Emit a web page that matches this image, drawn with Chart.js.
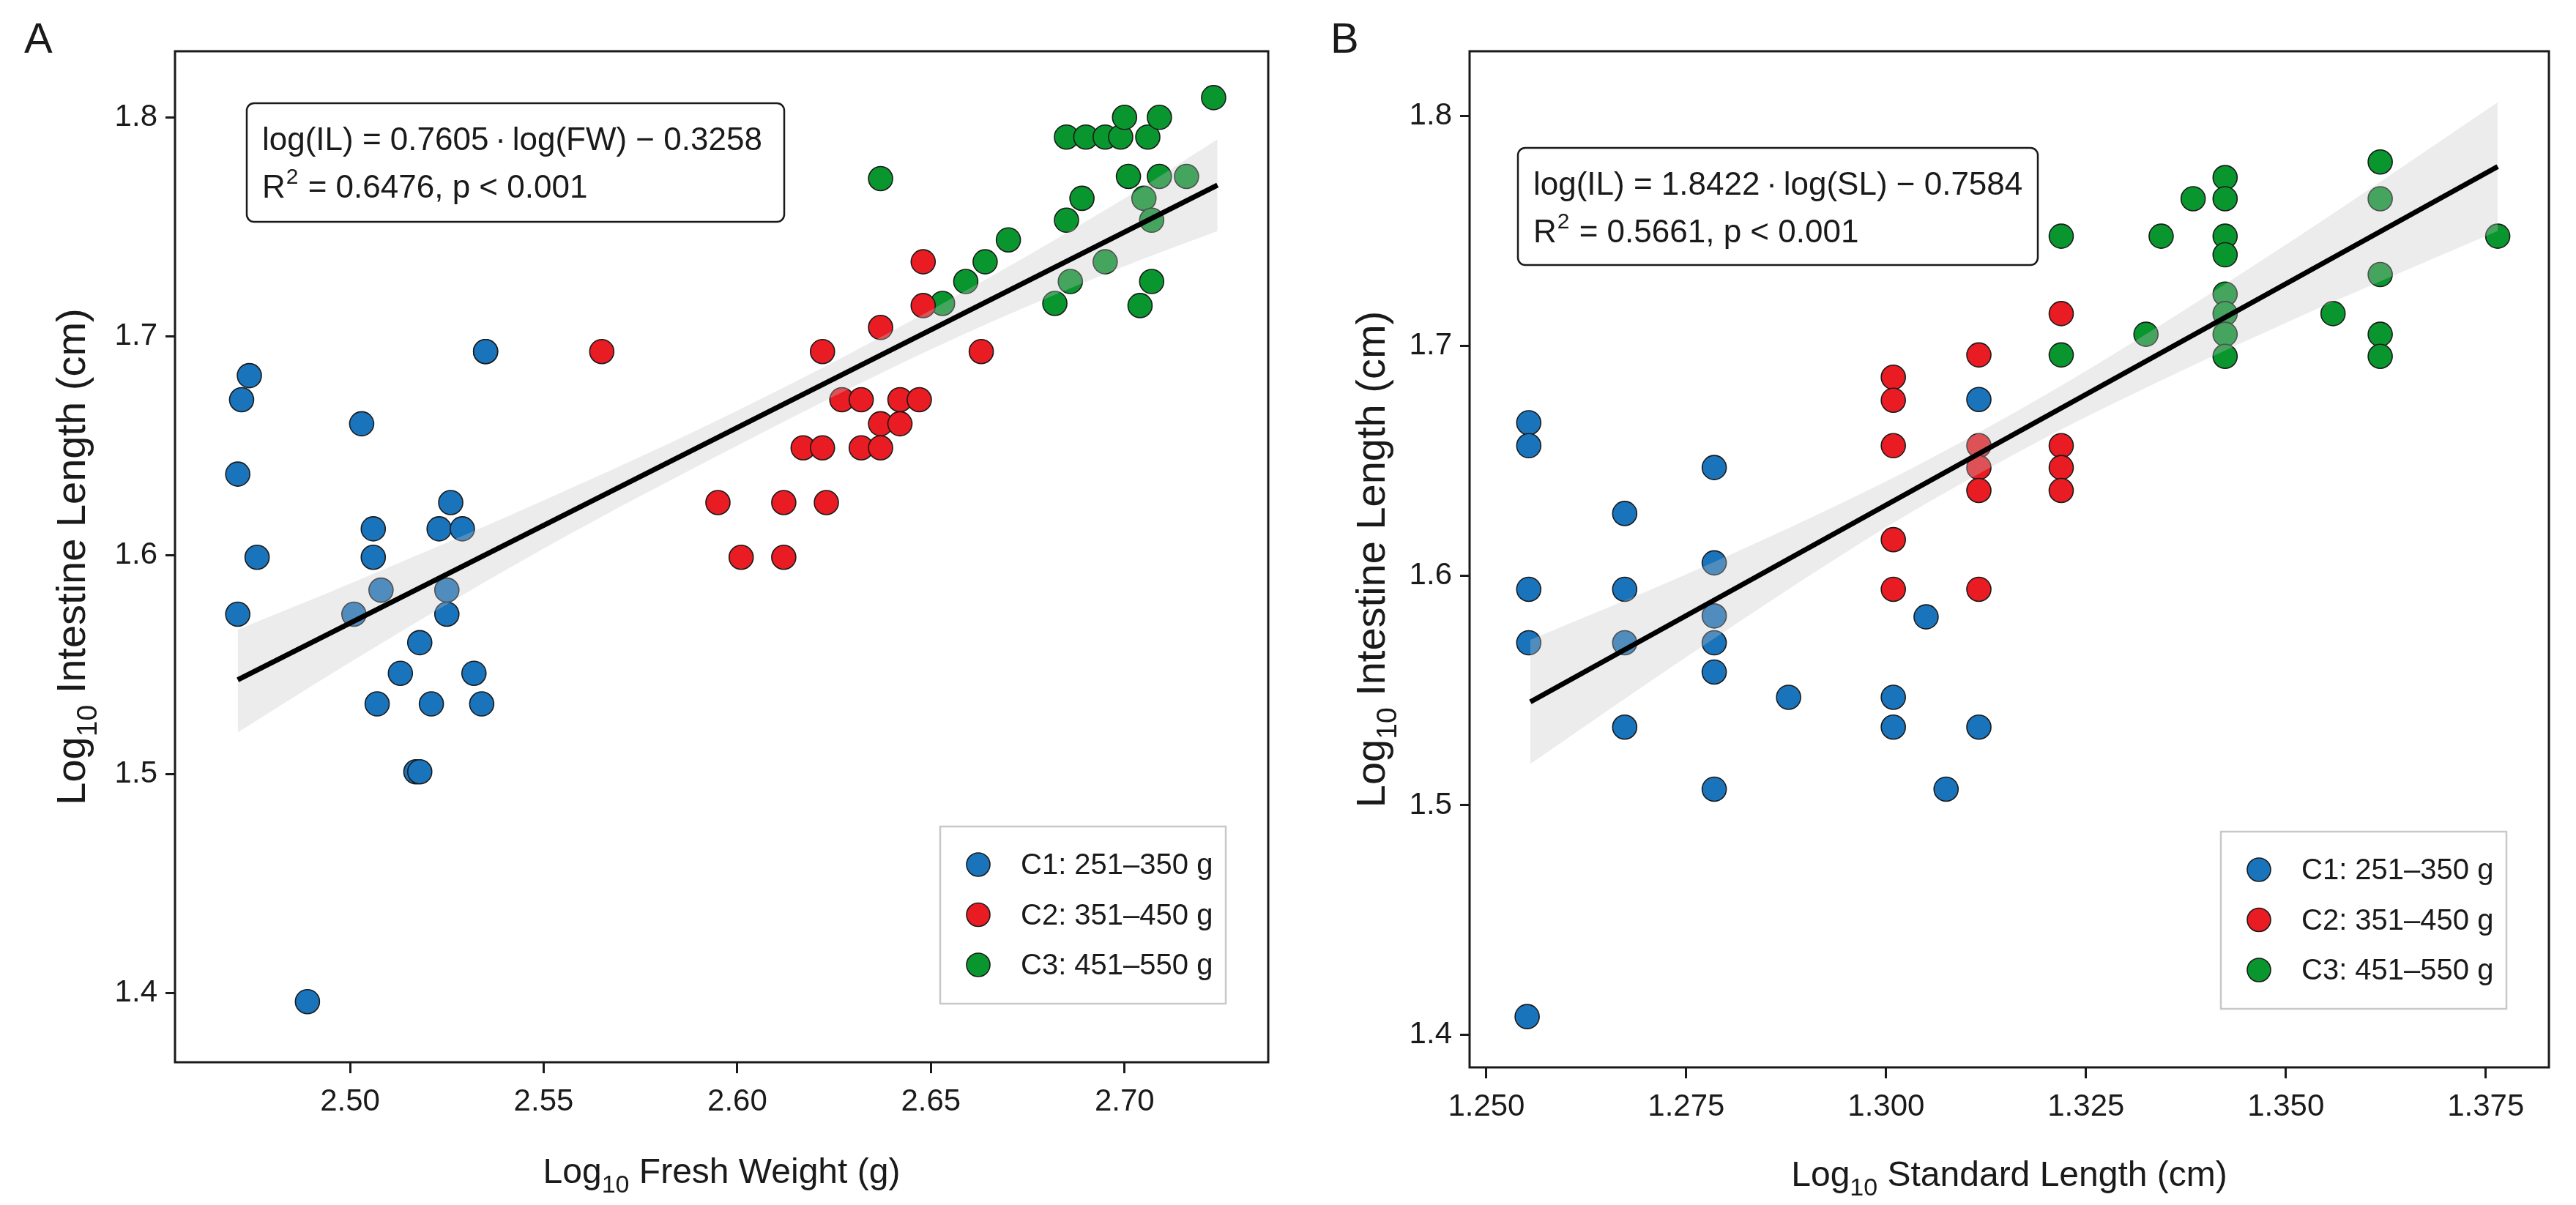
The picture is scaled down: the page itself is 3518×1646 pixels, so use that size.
<!DOCTYPE html>
<html>
<head>
<meta charset="utf-8">
<script src="https://cdn.jsdelivr.net/npm/chart.js@4.4.0/dist/chart.umd.min.js"></script>
<style>
  html, body { margin: 0; padding: 0; background: #fff; }
  .panel { position: absolute; top: 0; width: 1759px; height: 1646px; }
</style>
</head>
<body>
<div class="panel" style="left:0"><canvas id="chartA"></canvas></div>
<div class="panel" style="left:1759px"><canvas id="chartB"></canvas></div>
<script>
// groups
const groupLabels = ['C1: 251\u2013350 g', 'C2: 351\u2013450 g', 'C3: 451\u2013550 g'];

// panel A: log10 fresh weight (x) vs log10 intestine length (y)
const aC1x = [2.471, 2.472, 2.474, 2.476, 2.471, 2.489, 2.503, 2.506, 2.506, 2.508, 2.501, 2.526, 2.523,
              2.529, 2.525, 2.525, 2.518, 2.513, 2.507, 2.521, 2.532, 2.534, 2.517, 2.518, 2.535, 2.535];
const aC1y = [1.637, 1.671, 1.682, 1.599, 1.573, 1.396, 1.660, 1.612, 1.599, 1.584, 1.573, 1.624, 1.612,
              1.612, 1.584, 1.573, 1.560, 1.546, 1.532, 1.532, 1.546, 1.532, 1.501, 1.501, 1.693, 1.693];
const aC2x = [2.565, 2.595, 2.601, 2.612, 2.612, 2.617, 2.622, 2.622, 2.623, 2.627, 2.632, 2.632, 2.637,
              2.637, 2.637, 2.642, 2.642, 2.647, 2.648, 2.648, 2.663];
const aC2y = [1.693, 1.624, 1.599, 1.624, 1.599, 1.649, 1.649, 1.693, 1.624, 1.671, 1.671, 1.649, 1.660,
              1.649, 1.704, 1.671, 1.660, 1.671, 1.734, 1.714, 1.693];
const aC3x = [2.637, 2.653, 2.659, 2.664, 2.670, 2.682, 2.686, 2.685, 2.689, 2.695, 2.685, 2.690, 2.695,
              2.699, 2.700, 2.706, 2.709, 2.701, 2.709, 2.716, 2.705, 2.707, 2.707, 2.704, 2.723];
const aC3y = [1.772, 1.715, 1.725, 1.734, 1.744, 1.715, 1.725, 1.753, 1.763, 1.734, 1.791, 1.791, 1.791,
              1.791, 1.800, 1.791, 1.800, 1.773, 1.773, 1.773, 1.763, 1.753, 1.725, 1.714, 1.809];
const aFitX = [2.471, 2.724];
const aFitY = [1.543, 1.769];
const aBandX = [2.471, 2.500, 2.550, 2.600, 2.650, 2.700, 2.724];
const aBandLo = [1.519, 1.551, 1.603, 1.650, 1.694, 1.732, 1.748];
const aBandHi = [1.566, 1.587, 1.625, 1.666, 1.712, 1.763, 1.790];
const aXTicks = [2.50, 2.55, 2.60, 2.65, 2.70];

// panel B: log10 standard length (x) vs log10 intestine length (y)
const bC1x = [1.2553, 1.2553, 1.2553, 1.2553, 1.2551, 1.2673, 1.2673, 1.2673, 1.2673, 1.2785, 1.2785,
              1.2785, 1.2785, 1.2785, 1.2785, 1.2878, 1.3009, 1.3009, 1.3050, 1.3075, 1.3116, 1.3116];
const bC1y = [1.6665, 1.6565, 1.5940, 1.5707, 1.4080, 1.6270, 1.5940, 1.5707, 1.5340, 1.6470, 1.6055,
              1.5824, 1.5707, 1.5580, 1.5070, 1.5470, 1.5470, 1.5340, 1.5820, 1.5070, 1.6766, 1.5340];
const bC2x = [1.3009, 1.3009, 1.3009, 1.3009, 1.3009, 1.3116, 1.3116, 1.3116, 1.3116, 1.3116,
              1.3219, 1.3219, 1.3219, 1.3219];
const bC2y = [1.6863, 1.6763, 1.6565, 1.6156, 1.5940, 1.6960, 1.6565, 1.6470, 1.6370, 1.5940,
              1.7140, 1.6565, 1.6470, 1.6370];
const bC3x = [1.3219, 1.3219, 1.3325, 1.3344, 1.3384, 1.3424, 1.3424, 1.3424, 1.3424, 1.3424, 1.3424,
              1.3424, 1.3424, 1.3559, 1.3618, 1.3618, 1.3618, 1.3618, 1.3618, 1.3765];
const bC3y = [1.7477, 1.6960, 1.7050, 1.7477, 1.7640, 1.7732, 1.7640, 1.7477, 1.7396, 1.7225, 1.7140,
              1.7050, 1.6954, 1.7140, 1.7800, 1.7640, 1.7310, 1.7050, 1.6954, 1.7477];
const bFitX = [1.2555, 1.3765];
const bFitY = [1.545, 1.778];
const bBandX = [1.2555, 1.2750, 1.3000, 1.3125, 1.3250, 1.3500, 1.3765];
const bBandLo = [1.518, 1.5645, 1.621, 1.646, 1.669, 1.710, 1.750];
const bBandHi = [1.572, 1.6005, 1.641, 1.664, 1.689, 1.744, 1.806];
const bXTicks = [1.250, 1.275, 1.300, 1.325, 1.350, 1.375];

const yTicks = [1.4, 1.5, 1.6, 1.7, 1.8];

const FONT = '"Liberation Sans", Arial, Helvetica, sans-serif';
const INK = '#1a1a1a';
const groupColors = ['#1a74bb', '#e81c22', '#0a962f'];
const BAND = 'rgba(195, 195, 195, 0.32)';

function pts(xs, ys) {
    return xs.map((x, i) => ({ x: x, y: ys[i] }));
}

// text with a subscript part: [main, sub, rest]
function drawSubText(ctx, parts, cx, baseY, size) {
    const sub = Math.round(size * 0.7);
    ctx.font = `${size}px ${FONT}`;
    const w1 = ctx.measureText(parts[0]).width;
    const w3 = ctx.measureText(parts[2]).width;
    ctx.font = `${sub}px ${FONT}`;
    const w2 = ctx.measureText(parts[1]).width;
    let x = cx - (w1 + w2 + w3) / 2;
    ctx.textAlign = 'left';
    ctx.textBaseline = 'alphabetic';
    ctx.font = `${size}px ${FONT}`;
    ctx.fillText(parts[0], x, baseY);
    x += w1;
    ctx.font = `${sub}px ${FONT}`;
    ctx.fillText(parts[1], x, baseY + size * 0.28);
    x += w2;
    ctx.font = `${size}px ${FONT}`;
    ctx.fillText(parts[2], x, baseY);
}

const decor = {
    id: 'decor',
    afterDraw(chart, args, o) {
        const ctx = chart.ctx;
        const a = chart.chartArea;
        ctx.save();

        // panel border
        ctx.strokeStyle = INK;
        ctx.lineWidth = 3;
        ctx.strokeRect(a.left, a.top, a.right - a.left, a.bottom - a.top);

        ctx.fillStyle = INK;
        ctx.textAlign = 'left';
        ctx.textBaseline = 'alphabetic';
        ctx.font = `58px ${FONT}`;
        ctx.fillText(o.letter, o.letterX, 72);

        // axis titles
        drawSubText(ctx, o.xTitle, (a.left + a.right) / 2, o.xTitleY, 48);
        ctx.save();
        ctx.translate(o.yTitleX, (a.top + a.bottom) / 2);
        ctx.rotate(-Math.PI / 2);
        drawSubText(ctx, o.yTitle, 0, 0, 56);
        ctx.restore();

        // equation box
        const ex = a.left + o.eqBox[0], ey = a.top + o.eqBox[1];
        ctx.beginPath();
        ctx.roundRect(ex, ey, o.eqBox[2], o.eqBox[3], 10);
        ctx.fillStyle = '#fff';
        ctx.fill();
        ctx.lineWidth = 2.5;
        ctx.strokeStyle = INK;
        ctx.stroke();
        ctx.fillStyle = INK;
        ctx.font = `44px ${FONT}`;
        ctx.fillText(o.eqLine, ex + 21, ey + 64);
        ctx.fillText('R', ex + 21, ey + 129);
        let rx = ex + 21 + ctx.measureText('R').width;
        ctx.font = `30px ${FONT}`;
        ctx.fillText('2', rx + 1, ey + 110);
        rx += ctx.measureText('2').width + 2;
        ctx.font = `44px ${FONT}`;
        ctx.fillText(o.statLine, rx, ey + 129);

        // legend
        const lw = 390, lh = 242;
        const lx = a.right - 58 - lw, ly = a.bottom - 80 - lh;
        ctx.fillStyle = '#fff';
        ctx.fillRect(lx, ly, lw, lh);
        ctx.strokeStyle = '#c8c8c8';
        ctx.lineWidth = 2.5;
        ctx.strokeRect(lx, ly, lw, lh);
        ctx.textBaseline = 'middle';
        ctx.font = `40px ${FONT}`;
        groupLabels.forEach((label, i) => {
            const cy = ly + 52 + i * 68.5;
            ctx.beginPath();
            ctx.arc(lx + 52, cy, 16, 0, Math.PI * 2);
            ctx.fillStyle = groupColors[i];
            ctx.fill();
            ctx.lineWidth = 1.6;
            ctx.strokeStyle = INK;
            ctx.stroke();
            ctx.fillStyle = INK;
            ctx.fillText(label, lx + 110, cy + 2);
        });

        ctx.restore();
    }
};

function makeDatasets(groups, fitX, fitY, bandX, bandLo, bandHi) {
    const ds = groups.map((g, i) => ({
        type: 'scatter',
        label: groupLabels[i],
        data: pts(g[0], g[1]),
        backgroundColor: groupColors[i],
        borderColor: INK,
        borderWidth: 1.6,
        pointRadius: 16.5,
        pointHoverRadius: 16.5,
        order: 3
    }));
    ds.push({
        type: 'line',
        data: pts(bandX, bandLo),
        borderColor: 'transparent',
        borderWidth: 0,
        pointRadius: 0,
        cubicInterpolationMode: 'monotone',
        fill: false,
        order: 1
    });
    ds.push({
        type: 'line',
        data: pts(bandX, bandHi),
        borderColor: 'transparent',
        borderWidth: 0,
        pointRadius: 0,
        cubicInterpolationMode: 'monotone',
        fill: '-1',
        backgroundColor: BAND,
        order: 1
    });
    ds.push({
        type: 'line',
        data: pts(fitX, fitY),
        borderColor: '#000',
        borderWidth: 7,
        pointRadius: 0,
        fill: false,
        order: 0
    });
    return ds;
}

function makeChart(id, cfg) {
    const tickFont = { size: 42, family: FONT };
    return new Chart(document.getElementById(id), {
        type: 'scatter',
        data: { datasets: makeDatasets(cfg.groups, cfg.fitX, cfg.fitY, cfg.bandX, cfg.bandLo, cfg.bandHi) },
        options: {
            responsive: true,
            maintainAspectRatio: false,
            animation: false,
            events: [],
            layout: { padding: { top: 70, right: cfg.padRight, left: 0, bottom: 0 } },
            plugins: {
                legend: { display: false },
                tooltip: { enabled: false },
                decor: cfg.decor
            },
            scales: {
                x: {
                    type: 'linear',
                    min: cfg.xMin,
                    max: cfg.xMax,
                    afterBuildTicks: s => { s.ticks = cfg.xTicks.map(v => ({ value: v })); },
                    afterFit: s => { s.height = cfg.xAxisH; },
                    ticks: {
                        callback: v => v.toFixed(cfg.dec),
                        font: tickFont,
                        color: INK,
                        padding: 14,
                        maxRotation: 0,
                        autoSkip: false
                    },
                    grid: { drawOnChartArea: false, color: 'transparent', tickColor: INK, tickLength: 15, tickWidth: 3 },
                    border: { display: false }
                },
                y: {
                    type: 'linear',
                    min: cfg.yMin,
                    max: cfg.yMax,
                    afterBuildTicks: s => { s.ticks = yTicks.map(v => ({ value: v })); },
                    afterFit: s => { s.width = cfg.yAxisW; },
                    ticks: {
                        callback: v => v.toFixed(1),
                        font: tickFont,
                        color: INK,
                        padding: 11,
                        autoSkip: false
                    },
                    grid: { drawOnChartArea: false, color: 'transparent', tickColor: INK, tickLength: 13, tickWidth: 3 },
                    border: { display: false }
                }
            }
        },
        plugins: [decor]
    });
}

makeChart('chartA', {
    groups: [[aC1x, aC1y], [aC2x, aC2y], [aC3x, aC3y]],
    fitX: aFitX, fitY: aFitY,
    bandX: aBandX, bandLo: aBandLo, bandHi: aBandHi,
    xTicks: aXTicks, dec: 2,
    xMin: 2.4548, xMax: 2.7371, yMin: 1.3683, yMax: 1.8302,
    padRight: 27, xAxisH: 195, yAxisW: 239,
    decor: {
        letter: 'A', letterX: 33,
        xTitle: ['Log', '10', ' Fresh Weight (g)'], xTitleY: 1616,
        yTitle: ['Log', '10', ' Intestine Length (cm)'], yTitleX: 116,
        eqBox: [98, 71, 734, 162],
        eqLine: 'log(IL) = 0.7605\u2009\u00b7\u2009log(FW) \u2212 0.3258',
        statLine: ' = 0.6476, p < 0.001'
    }
});

makeChart('chartB', {
    groups: [[bC1x, bC1y], [bC2x, bC2y], [bC3x, bC3y]],
    fitX: bFitX, fitY: bFitY,
    bandX: bBandX, bandLo: bBandLo, bandHi: bBandHi,
    xTicks: bXTicks, dec: 3,
    xMin: 1.2479, xMax: 1.3829, yMin: 1.3859, yMax: 1.8282,
    padRight: 37, xAxisH: 188, yAxisW: 248,
    decor: {
        letter: 'B', letterX: 58,
        xTitle: ['Log', '10', ' Standard Length (cm)'], xTitleY: 1620,
        yTitle: ['Log', '10', ' Intestine Length (cm)'], yTitleX: 132,
        eqBox: [66, 132, 710, 160],
        eqLine: 'log(IL) = 1.8422\u2009\u00b7\u2009log(SL) \u2212 0.7584',
        statLine: ' = 0.5661, p < 0.001'
    }
});
</script>
</body>
</html>
